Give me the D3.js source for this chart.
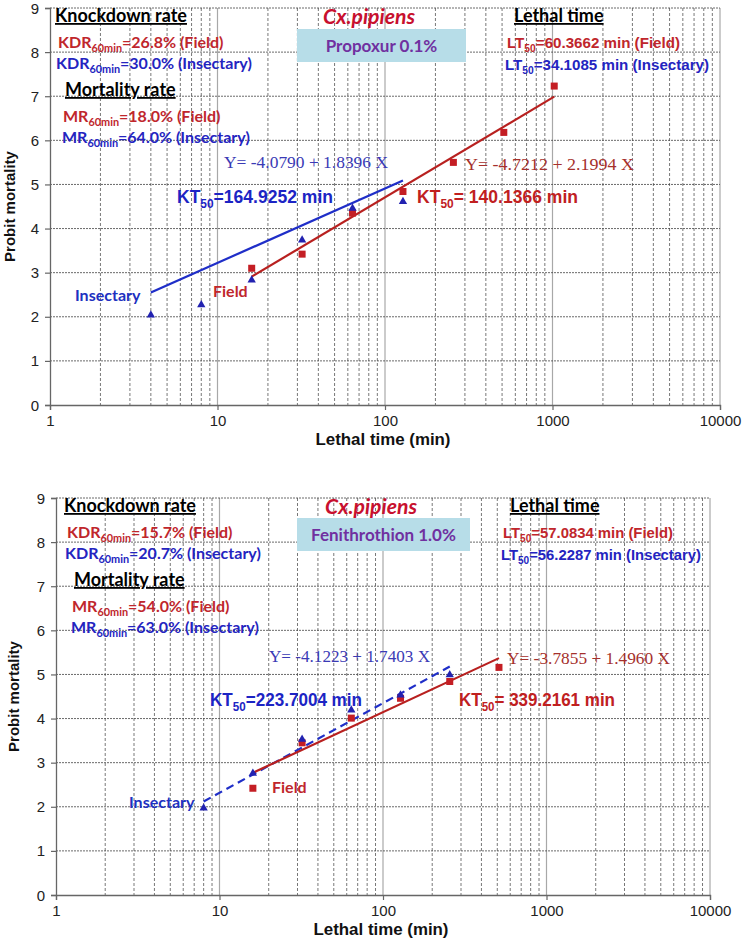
<!DOCTYPE html>
<html><head><meta charset="utf-8">
<script src="https://cdn.jsdelivr.net/npm/d3@7"></script>
<style>body{margin:0;background:#fff} svg{display:block}</style>
</head><body>
<svg id="c" width="743" height="940"></svg>
<script>
// ---------- data ----------
const xTickValues = [1, 10, 100, 1000, 10000];
const yTickValues = [0, 1, 2, 3, 4, 5, 6, 7, 8, 9];

// Panel A: Propoxur 0.1%
const timeFieldA   = [16, 32, 64, 128, 256, 512, 1024];
const probitFieldA = [3.10, 3.42, 4.35, 4.84, 5.50, 6.18, 7.23];
const timeInsA     = [4, 8, 16, 32, 64, 128];
const probitInsA   = [2.04, 2.27, 2.83, 3.74, 4.46, 4.61];
const fitFieldTimeA = [16, 1024], fitFieldProbitA = [2.91, 6.99];
const fitInsTimeA   = [4, 128],   fitInsProbitA   = [2.55, 5.09];

// Panel B: Fenithrothion 1.0%
const timeFieldB   = [16, 32, 64, 128, 256, 512];
const probitFieldB = [2.42, 3.45, 4.01, 4.46, 4.84, 5.16];
const timeInsB     = [8, 16, 32, 64, 128, 256];
const probitInsB   = [1.97, 2.76, 3.53, 4.19, 4.53, 4.99];
const fitFieldTimeB = [16, 512], fitFieldProbitB = [2.77, 5.37];
const fitInsTimeB   = [8, 256],  fitInsProbitB   = [2.12, 5.18];

// annotation texts
const insecticides = ["Propoxur 0.1%", "Fenithrothion 1.0%"];
const kdrField = ["26.8%", "15.7%"], kdrIns = ["30.0%", "20.7%"];
const mrField = ["18.0%", "54.0%"], mrIns = ["64.0%", "63.0%"];
const ltField = ["60.3662", "57.0834"], ltIns = ["34.1085", "56.2287"];
const eqIns = ["Y= -4.0790 + 1.8396 X", "Y= -4.1223 + 1.7403 X"];
const eqField = ["Y= -4.7212 + 2.1994 X", "Y= -3.7855 + 1.4960 X"];
const ktIns = ["164.9252", "223.7004"], ktField = ["140.1366", "339.2161"];

// ---------- styling ----------
const RED = "#c0262c", BLUE = "#2424c0";
const CAL = "Lato, 'Open Sans', sans-serif";
const ARIAL = "'Liberation Sans', Arial, sans-serif";
const SERIF = "'Liberation Serif', 'Times New Roman', serif";

const svg = d3.select("#c");

function rich(g, x, y, parts, opts) {
  const t = g.append("text").attr("x", x).attr("y", y)
    .attr("font-family", opts.family).attr("font-size", opts.size)
    .attr("font-weight", opts.weight || "normal")
    .attr("font-style", opts.style || "normal")
    .attr("fill", opts.fill || "#000");
  if (opts.anchor) t.attr("text-anchor", opts.anchor);
  let shifted = false;
  parts.forEach(p => {
    const ts = t.append("tspan").text(p[0]);
    if (p[1] === "sub" && !shifted) { ts.attr("dy", opts.size * 0.28).attr("font-size", opts.size * 0.68); shifted = true; }
    else if (p[1] === "sub") { ts.attr("font-size", opts.size * 0.68); }
    else if (shifted) { ts.attr("dy", -opts.size * 0.28); shifted = false; }
  });
  if (opts.underline) t.attr("text-decoration", "underline");
  if (opts.len) t.attr("textLength", opts.len).attr("lengthAdjust", "spacingAndGlyphs");
  return t;
}

function panel(i, L, d) {
  const g = svg.append("g");
  const x = d3.scaleLog().domain([1, 10000]).range([L.left, L.right]);
  const y = d3.scaleLinear().domain([0, 9]).range([L.bottom, L.top]);

  // minor vertical grid
  const minors = [];
  xTickValues.slice(0, -1).forEach(dec => { for (let k = 2; k <= 9; k++) minors.push(dec * k); });
  g.selectAll(".minor").data(minors).enter().append("line")
    .attr("x1", v => x(v)).attr("x2", v => x(v)).attr("y1", L.top).attr("y2", L.bottom)
    .attr("stroke", "#555").attr("stroke-width", 0.8).attr("stroke-dasharray", "3,2");
  // major vertical grid
  g.selectAll(".major").data(xTickValues.slice(1)).enter().append("line")
    .attr("x1", v => x(v)).attr("x2", v => x(v)).attr("y1", L.top).attr("y2", L.bottom)
    .attr("stroke", "#a8a8a8").attr("stroke-width", 1.2);
  // horizontal grid
  g.selectAll(".hg").data(yTickValues.slice(1)).enter().append("line")
    .attr("x1", L.left).attr("x2", L.right).attr("y1", v => y(v)).attr("y2", v => y(v))
    .attr("stroke", "#444").attr("stroke-width", 0.8).attr("stroke-dasharray", "2,1");

  // axes
  const ax = g.append("g").attr("transform", `translate(0,${L.bottom})`)
    .call(d3.axisBottom(x).tickValues(xTickValues).tickFormat(d3.format("d")).tickSize(5).tickPadding(5));
  const ay = g.append("g").attr("transform", `translate(${L.left},0)`)
    .call(d3.axisLeft(y).tickValues(yTickValues).tickSize(5).tickPadding(6));
  [ax, ay].forEach(a => {
    a.select(".domain").attr("stroke", "#666").attr("stroke-width", 1.3);
    a.selectAll(".tick line").attr("stroke", "#666").attr("stroke-width", 1.2);
    a.selectAll("text").attr("font-family", ARIAL).attr("font-size", 15).attr("fill", "#222");
  });
  ay.selectAll("text").attr("dy", "0.34em");
  ax.selectAll("text").attr("dy", "0.71em");

  // axis titles
  rich(g, (L.left + L.right) / 2 - 2, L.bottom + 40, [["Lethal time (min)"]],
    {family: ARIAL, size: 16, weight: "bold", fill: "#111", anchor: "middle", len: 135});
  g.append("text").attr("transform", `translate(${L.ylabX},${(L.top + L.bottom) / 2}) rotate(-90)`)
    .attr("text-anchor", "middle").attr("font-family", ARIAL).attr("font-weight", "bold")
    .attr("font-size", 15).attr("fill", "#111").text("Probit mortality");

  // fit lines
  const line = d3.line().x(p => x(p[0])).y(p => y(p[1]));
  g.append("path").datum(d.fitInsT.map((t, k) => [t, d.fitInsP[k]]))
    .attr("d", line).attr("fill", "none").attr("stroke", "#1f2ec8").attr("stroke-width", 2.2)
    .attr("stroke-dasharray", L.insDash ? "8,5" : null);
  g.append("path").datum(d.fitFieldT.map((t, k) => [t, d.fitFieldP[k]]))
    .attr("d", line).attr("fill", "none").attr("stroke", "#b8201f").attr("stroke-width", 2.2);

  // points
  const sq = 7;
  g.selectAll(".fp").data(d.fieldT.map((t, k) => [t, d.fieldP[k]])).enter().append("rect")
    .attr("x", p => x(p[0]) - sq / 2).attr("y", p => y(p[1]) - sq / 2)
    .attr("width", sq).attr("height", sq).attr("fill", "#c41e24");
  const tri = d3.symbol().type(d3.symbolTriangle).size(30);
  g.selectAll(".ip").data(d.insT.map((t, k) => [t, d.insP[k]])).enter().append("path")
    .attr("d", tri).attr("transform", p => `translate(${x(p[0])},${y(p[1])})`)
    .attr("fill", "#2222b0");

  // annotation block (left)
  const A = L.ann;
  rich(g, A.kx, A.ky, [["Knockdown rate"]], {family: CAL, size: 18, weight: "bold", underline: true});
  rich(g, A.kx + 3, A.ky + 26, [["KDR"], ["60min", "sub"], ["=" + kdrField[i] + " (Field)"]], {family: CAL, size: 16, weight: "bold", fill: RED});
  rich(g, A.kx + 1, A.ky + 47, [["KDR"], ["60min", "sub"], ["=" + kdrIns[i] + " (Insectary)"]], {family: CAL, size: 16, weight: "bold", fill: BLUE});
  rich(g, A.kx + 10, A.ky + 74, [["Mortality rate"]], {family: CAL, size: 18, weight: "bold", underline: true});
  rich(g, A.kx + 8, A.ky + 100, [["MR"], ["60min", "sub"], ["=" + mrField[i] + " (Field)"]], {family: CAL, size: 16, weight: "bold", fill: RED});
  rich(g, A.kx + 7, A.ky + 121, [["MR"], ["60min", "sub"], ["=" + mrIns[i] + " (Insectary)"]], {family: CAL, size: 16, weight: "bold", fill: BLUE});

  // species + insecticide box
  rich(g, A.cx, A.ky + 2, [["Cx.pipiens"]], {family: CAL, size: 21, weight: "bold", style: "italic", fill: "#c8102e", anchor: "middle", len: 92});
  g.append("rect").attr("x", A.bx).attr("y", A.by).attr("width", A.bw).attr("height", 33).attr("fill", "#b7dde8");
  rich(g, A.bx + A.bw / 2, A.by + 23, [[insecticides[i]]], {family: CAL, size: 17, weight: "bold", fill: "#7030a0", anchor: "middle"});

  // lethal time block
  rich(g, A.lx, A.ky, [["Lethal time"]], {family: CAL, size: 18, weight: "bold", underline: true});
  rich(g, A.lx - 7, A.ky + 26, [["LT"], ["50", "sub"], ["=" + ltField[i] + " min (Field)"]], {family: ARIAL, size: 15, weight: "bold", fill: RED, len: A.ltFw});
  rich(g, A.lx - 9, A.ky + 48, [["LT"], ["50", "sub"], ["=" + ltIns[i] + " min (Insectary)"]], {family: ARIAL, size: 15, weight: "bold", fill: BLUE, len: A.ltIw});

  // equations and KT50
  rich(g, A.eqIx, A.eqY, [[eqIns[i]]], {family: SERIF, size: 17, fill: "#3a3ab5", len: A.eqIw});
  rich(g, A.eqFx, A.eqY + 2, [[eqField[i]]], {family: SERIF, size: 17, fill: "#a5302c", len: A.eqFw});
  rich(g, A.ktIx, A.ktY, [["KT"], ["50", "sub"], ["=" + ktIns[i] + " min"]], {family: ARIAL, size: 18, weight: "bold", fill: "#1c24c4", len: A.ktIw});
  rich(g, A.ktFx, A.ktY, [["KT"], ["50", "sub"], ["= " + ktField[i] + " min"]], {family: ARIAL, size: 18, weight: "bold", fill: "#c0201f", len: A.ktFw});

  // series labels
  rich(g, A.insLx, A.insLy, [["Insectary"]], {family: CAL, size: 16, weight: "bold", fill: "#2030c0"});
  rich(g, A.fLx, A.fLy, [["Field"]], {family: CAL, size: 16, weight: "bold", fill: RED});
}

panel(0, {
  left: 50, right: 720, top: 8, bottom: 405, ylabX: 15, insDash: false,
  ann: {kx: 55, ky: 22, cx: 369, bx: 297, by: 29, bw: 169, lx: 514,
        ltFw: 173, ltIw: 204,
        eqIx: 224, eqFx: 465, eqY: 168, eqIw: 164, eqFw: 169,
        ktIx: 177, ktFx: 417, ktY: 203, ktIw: 156, ktFw: 161,
        insLx: 75, insLy: 301, fLx: 213, fLy: 297}
}, {
  fieldT: timeFieldA, fieldP: probitFieldA, insT: timeInsA, insP: probitInsA,
  fitFieldT: fitFieldTimeA, fitFieldP: fitFieldProbitA, fitInsT: fitInsTimeA, fitInsP: fitInsProbitA
});

panel(1, {
  left: 56, right: 710, top: 498, bottom: 895, ylabX: 19, insDash: true,
  ann: {kx: 64, ky: 512, cx: 371, bx: 297, by: 518, bw: 173, lx: 510,
        ltFw: 170, ltIw: 200,
        eqIx: 269, eqFx: 507, eqY: 662, eqIw: 161, eqFw: 163,
        ktIx: 210, ktFx: 459, ktY: 706, ktIw: 152, ktFw: 156,
        insLx: 129, insLy: 808, fLx: 272, fLy: 793}
}, {
  fieldT: timeFieldB, fieldP: probitFieldB, insT: timeInsB, insP: probitInsB,
  fitFieldT: fitFieldTimeB, fitFieldP: fitFieldProbitB, fitInsT: fitInsTimeB, fitInsP: fitInsProbitB
});
</script>
</body></html>
